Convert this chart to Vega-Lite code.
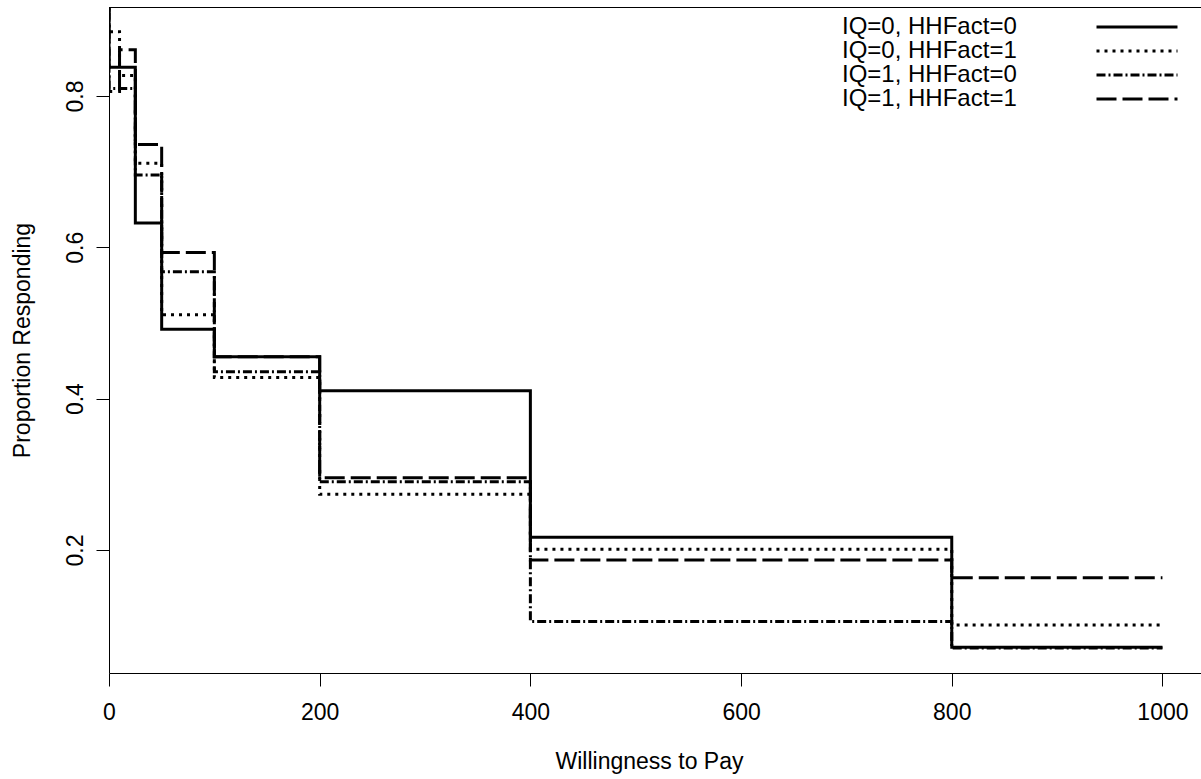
{
  "$schema": "https://vega.github.io/schema/vega-lite/v6.json",
  "width": 1092,
  "height": 666,
  "autosize": {"type": "none"},
  "padding": {"left": 109, "top": 7, "right": 0, "bottom": 106},
  "background": "white",
  "config": {
    "view": {"stroke": null},
    "font": "Liberation Sans",
    "axis": {"grid": false, "domainColor": "black", "tickColor": "black", "labelColor": "black", "titleColor": "black", "titleFontWeight": "normal", "labelFont": "Liberation Sans", "titleFont": "Liberation Sans", "domainWidth": 1, "tickWidth": 1}
  },
  "data": {
    "values": [
      {"group": "IQ=0, HHFact=0", "seq": 0, "wtp": 0, "prop": 1.0},
      {"group": "IQ=0, HHFact=0", "seq": 1, "wtp": 0, "prop": 0.838},
      {"group": "IQ=0, HHFact=0", "seq": 2, "wtp": 25, "prop": 0.632},
      {"group": "IQ=0, HHFact=0", "seq": 3, "wtp": 50, "prop": 0.4916},
      {"group": "IQ=0, HHFact=0", "seq": 4, "wtp": 100, "prop": 0.4554},
      {"group": "IQ=0, HHFact=0", "seq": 5, "wtp": 200, "prop": 0.4105},
      {"group": "IQ=0, HHFact=0", "seq": 6, "wtp": 400, "prop": 0.2167},
      {"group": "IQ=0, HHFact=0", "seq": 7, "wtp": 800, "prop": 0.0714},
      {"group": "IQ=0, HHFact=0", "seq": 8, "wtp": 1000, "prop": 0.0714},
      {"group": "IQ=0, HHFact=1", "seq": 0, "wtp": 0, "prop": 1.0},
      {"group": "IQ=0, HHFact=1", "seq": 1, "wtp": 0, "prop": 0.885},
      {"group": "IQ=0, HHFact=1", "seq": 2, "wtp": 10, "prop": 0.827},
      {"group": "IQ=0, HHFact=1", "seq": 3, "wtp": 25, "prop": 0.711},
      {"group": "IQ=0, HHFact=1", "seq": 4, "wtp": 50, "prop": 0.511},
      {"group": "IQ=0, HHFact=1", "seq": 5, "wtp": 100, "prop": 0.428},
      {"group": "IQ=0, HHFact=1", "seq": 6, "wtp": 200, "prop": 0.2735},
      {"group": "IQ=0, HHFact=1", "seq": 7, "wtp": 400, "prop": 0.201},
      {"group": "IQ=0, HHFact=1", "seq": 8, "wtp": 800, "prop": 0.1008},
      {"group": "IQ=0, HHFact=1", "seq": 9, "wtp": 1000, "prop": 0.1008},
      {"group": "IQ=1, HHFact=0", "seq": 0, "wtp": 0, "prop": 1.0},
      {"group": "IQ=1, HHFact=0", "seq": 1, "wtp": 0, "prop": 0.81},
      {"group": "IQ=1, HHFact=0", "seq": 2, "wtp": 25, "prop": 0.6955},
      {"group": "IQ=1, HHFact=0", "seq": 3, "wtp": 50, "prop": 0.5677},
      {"group": "IQ=1, HHFact=0", "seq": 4, "wtp": 100, "prop": 0.4356},
      {"group": "IQ=1, HHFact=0", "seq": 5, "wtp": 200, "prop": 0.29},
      {"group": "IQ=1, HHFact=0", "seq": 6, "wtp": 400, "prop": 0.1055},
      {"group": "IQ=1, HHFact=0", "seq": 7, "wtp": 800, "prop": 0.0705},
      {"group": "IQ=1, HHFact=0", "seq": 8, "wtp": 1000, "prop": 0.0705},
      {"group": "IQ=1, HHFact=1", "seq": 0, "wtp": 0, "prop": 1.0},
      {"group": "IQ=1, HHFact=1", "seq": 1, "wtp": 0, "prop": 0.806},
      {"group": "IQ=1, HHFact=1", "seq": 2, "wtp": 10, "prop": 0.861},
      {"group": "IQ=1, HHFact=1", "seq": 3, "wtp": 25, "prop": 0.736},
      {"group": "IQ=1, HHFact=1", "seq": 4, "wtp": 50, "prop": 0.593},
      {"group": "IQ=1, HHFact=1", "seq": 5, "wtp": 100, "prop": 0.4554},
      {"group": "IQ=1, HHFact=1", "seq": 6, "wtp": 200, "prop": 0.2955},
      {"group": "IQ=1, HHFact=1", "seq": 7, "wtp": 400, "prop": 0.1867},
      {"group": "IQ=1, HHFact=1", "seq": 8, "wtp": 800, "prop": 0.1634},
      {"group": "IQ=1, HHFact=1", "seq": 9, "wtp": 1000, "prop": 0.1634}
    ]
  },
  "resolve": {"axis": {"x": "independent"}},
  "layer": [
    {
      "mark": {"type": "line", "interpolate": "step-after", "clip": true, "strokeWidth": 3, "color": "black"},
      "encoding": {
        "x": {
          "field": "wtp", "type": "quantitative",
          "scale": {"domain": [0, 1036.6], "nice": false, "zero": false},
          "axis": {"orient": "bottom", "values": [0, 200, 400, 600, 800, 1000], "format": "d", "tickSize": 13, "labelPadding": 15, "labelFontSize": 23, "labelFlush": false, "labelOverlap": false, "title": "Willingness to Pay", "titleFontSize": 23, "titlePadding": 26, "titleX": 540}
        },
        "y": {
          "field": "prop", "type": "quantitative",
          "scale": {"domain": [0.0374, 0.9176], "nice": false, "zero": false},
          "axis": {"orient": "left", "values": [0.2, 0.4, 0.6, 0.8], "format": ".1f", "tickSize": 13, "labelAngle": -90, "labelAlign": "center", "labelBaseline": "alphabetic", "labelPadding": 14, "labelFontSize": 23, "title": "Proportion Responding", "titleFontSize": 23, "titleBaseline": "alphabetic", "titleX": -80, "titleY": 333, "titleAngle": -90, "titleAlign": "center"}
        },
        "strokeDash": {
          "field": "group", "type": "nominal",
          "scale": {"domain": ["IQ=0, HHFact=0", "IQ=0, HHFact=1", "IQ=1, HHFact=0", "IQ=1, HHFact=1"], "range": [[1, 0], [3, 5], [9, 3, 2, 3], [20, 6]]},
          "legend": {"orient": "none", "legendX": 1016, "legendY": 8, "title": null, "symbolType": "M-4,0L4,0", "symbolSize": 410, "symbolStrokeWidth": 3, "symbolStrokeColor": "black", "labelFontSize": 24, "labelFont": "Liberation Sans", "labelColor": "black", "labelAlign": "left", "labelOffset": -307, "labelLimit": 0, "rowPadding": 0, "padding": 0}
        },
        "order": {"field": "seq", "type": "quantitative"}
      }
    },
    {
      "mark": {"type": "point", "opacity": 0},
      "encoding": {
        "x": {
          "field": "wtp", "type": "quantitative",
          "axis": {"orient": "top", "labels": false, "ticks": false, "title": null, "domain": true}
        }
      }
    }
  ]
}
